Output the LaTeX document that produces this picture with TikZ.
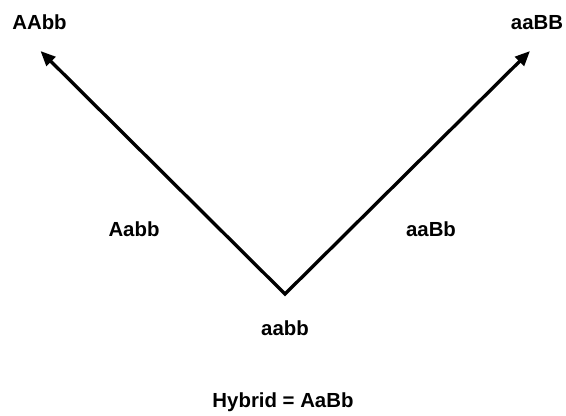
\documentclass[tikz,border=0pt]{standalone}
\usepackage{fontspec}
\setmainfont{Liberation Sans}
\usetikzlibrary{arrows.meta}
\tikzset{
  crossarrow/.style={{Triangle[length=3mm,width=2.5mm]}-{Triangle[length=3mm,width=2.5mm]}, line width=1.9pt, draw=black, line join=miter},
  genolabel/.style={font=\fontsize{11.6}{14}\selectfont\bfseries, inner sep=0pt}
}

\begin{document}
\begin{tikzpicture}
\useasboundingbox (0,0) rectangle (11.32,8.3);

% parent at the bottom vertex, the two lines branch upwards
\coordinate (parent) at (5.70,2.42);
\coordinate (lefttip) at (0.81,7.28);
\coordinate (righttip) at (10.60,7.28);

\node[genolabel] at (0.79,7.85) (AAbb) {AAbb};
\node[genolabel] at (10.74,7.85) (aaBB) {aaBB};
\node[genolabel] at (2.68,3.71) (Aabb) {Aabb};
\node[genolabel] at (8.62,3.71) (aaBb) {aaBb};
\node[genolabel] at (5.70,1.74) (aabb) {aabb};
\node[genolabel] at (5.66,0.26) (hybrid) {Hybrid = AaBb};

\draw[crossarrow] (lefttip) -- (parent) -- (righttip);
\end{tikzpicture}
\end{document}
